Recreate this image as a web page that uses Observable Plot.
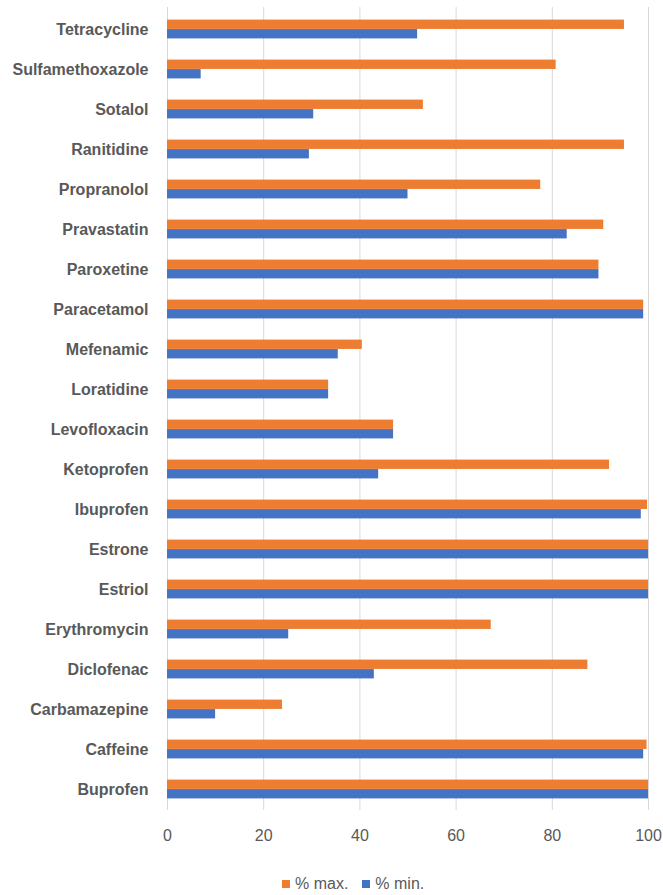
<!DOCTYPE html>
<html>
<head>
<meta charset="utf-8">
<script src="https://cdn.jsdelivr.net/npm/d3@7"></script>
<script src="https://cdn.jsdelivr.net/npm/@observablehq/plot@0.6"></script>
<style>
  body { margin: 0; background: #fff; font-family: "Liberation Sans", Arial, sans-serif; }
  #chart { width: 663px; }
  .legend { display: flex; align-items: center; margin-top: 26px; padding-left: 282px; font-size: 16px; color: #595959; height: 16px; }
  .legend .item { display: flex; align-items: center; margin-right: 14px; }
  .legend .sw { width: 8px; height: 8px; margin-right: 5px; }
</style>
</head>
<body>
<div id="chart"></div>
<script>
const drugs = ["Tetracycline","Sulfamethoxazole","Sotalol","Ranitidine","Propranolol","Pravastatin","Paroxetine","Paracetamol","Mefenamic","Loratidine","Levofloxacin","Ketoprofen","Ibuprofen","Estrone","Estriol","Erythromycin","Diclofenac","Carbamazepine","Caffeine","Buprofen"];
const maxVals = [95.0, 80.8, 53.2, 95.0, 77.6, 90.7, 89.7, 99.0, 40.5, 33.5, 47.0, 91.9, 99.8, 100, 100, 67.3, 87.4, 23.9, 99.7, 100];
const minVals = [52.0, 7.0, 30.4, 29.5, 50.0, 83.1, 89.7, 99.0, 35.5, 33.5, 47.0, 43.9, 98.5, 100, 100, 25.2, 43.0, 10.0, 99.0, 100];
const seriesNames = ["% max.", "% min."];
const seriesColors = ["#ED7D31", "#4472C4"];
const xTicks = [0, 20, 40, 60, 80, 100];

const rowsMax = drugs.map((d, i) => ({drug: d, value: maxVals[i]}));
const rowsMin = drugs.map((d, i) => ({drug: d, value: minVals[i]}));

const chart = Plot.plot({
  width: 663,
  height: 850,
  marginTop: 7,
  marginBottom: 40,
  marginLeft: 167,
  marginRight: 15,
  style: {fontFamily: "'Liberation Sans', Arial, sans-serif", color: "#595959", background: "#fff"},
  x: {domain: [0, 100], ticks: xTicks},
  y: {domain: drugs, padding: 0},
  marks: [
    Plot.gridX(xTicks, {stroke: "#d9d9d9", strokeOpacity: 1, strokeWidth: 1}),
    Plot.barX(rowsMax, {x: "value", y: "drug", fill: seriesColors[0], insetTop: 10.6, insetBottom: 20.07}),
    Plot.barX(rowsMin, {x: "value", y: "drug", fill: seriesColors[1], insetTop: 20.07, insetBottom: 10.6}),
    Plot.axisX(xTicks, {tickSize: 0, tickPadding: 19, fontSize: 16, fill: "#595959", label: null}),
    Plot.axisY({tickSize: 0, tickPadding: 19, fontSize: 16, fontWeight: "bold", fill: "#595959", label: null})
  ]
});
document.getElementById("chart").appendChild(chart);

const legend = document.createElement("div");
legend.className = "legend";
seriesNames.forEach((name, i) => {
  const item = document.createElement("div");
  item.className = "item";
  const sw = document.createElement("span");
  sw.className = "sw";
  sw.style.background = seriesColors[i];
  const tx = document.createElement("span");
  tx.textContent = name;
  item.appendChild(sw);
  item.appendChild(tx);
  legend.appendChild(item);
});
document.body.appendChild(legend);
</script>
</body>
</html>
